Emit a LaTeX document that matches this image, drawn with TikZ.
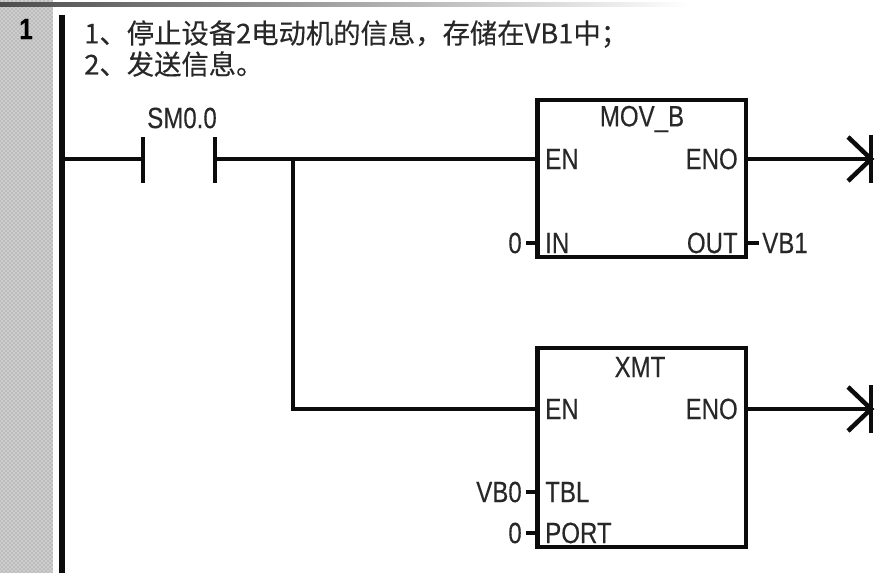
\documentclass[tikz,border=0pt]{standalone}
\usepackage{xcolor}
\usepackage{fontspec}
\usetikzlibrary{positioning, calc, patterns}
\setmainfont[FakeStretch=0.82, FakeBold=0.25]{Liberation Sans}
\newfontfamily\cjk[FakeBold=0.3]{Noto Sans CJK SC}
\definecolor{mydark}{RGB}{12,12,12}
\definecolor{mytext}{RGB}{40,40,40}
\definecolor{mystrip}{RGB}{205,205,205}
\tikzset{
  plcbox/.style={rectangle, draw=mydark, fill=white, line width=3.6pt, inner sep=0pt},
  pin/.style={text=mytext, font=\fontsize{22}{24}\selectfont, inner sep=0pt},
  remark/.style={text=mytext, font=\fontsize{20.5}{24}\cjk, inner sep=0pt, anchor=west},
  line/.style={line width=3.4pt, color=mydark},
  stub/.style={line width=3pt, color=mydark}
}
\begin{document}
\begin{tikzpicture}[x=0.75pt, y=-0.75pt]
  \useasboundingbox (0,0) rectangle (889,573);

  % Network number strip and top edge
  \fill[mystrip] (0,0) rectangle (53,573);
  \fill[pattern=crosshatch dots, pattern color=black!45] (0,0) rectangle (53,573);
  \shade[left color=black!70, right color=white] (0,3) rectangle (690,7);
  \node[font=\fontsize{22}{24}\selectfont\bfseries, inner sep=0pt] (netnum) at (26,29) {1};

  % Network comment
  \node[remark] (remarkA) at (84,34) {1、停止设备2电动机的信息，存储在VB1中；};
  \node[remark] (remarkB) at (84,64) {2、发送信息。};

  % Power rail
  \coordinate (railtop) at (62,15);
  \coordinate (railbot) at (62,573);
  \draw[line width=3.8pt, color=mydark] (railtop) -- (railbot);

  % Contact SM0.0
  \coordinate (railtap) at (62,159);
  \coordinate (contactL) at (143,159);
  \coordinate (contactR) at (215,159);
  \draw[line] (railtap) -- (contactL);
  \draw[line] ($(contactL)+(0,-22)$) -- ($(contactL)+(0,24)$);
  \draw[line] ($(contactR)+(0,-22)$) -- ($(contactR)+(0,24)$);
  \node[pin] (contactname) at (182,118) {SM0.0};

  % MOV_B box
  \node[plcbox, minimum width=156.4pt, minimum height=117.8pt] (movbox) at (641.75,178.5) {};
  \node[pin] (movname) at (642,119) {MOV\_B};
  \node[pin, anchor=west] (moven) at (545,159) {EN};
  \node[pin, anchor=east] (moveno) at (738,159) {ENO};
  \node[pin, anchor=west] (movin) at (545,243) {IN};
  \node[pin, anchor=east] (movout) at (738,243) {OUT};
  \node[pin, anchor=east] (movinval) at (522,243) {0};
  \node[pin, anchor=west] (movoutval) at (762,243) {VB1};

  % XMT box
  \node[plcbox, minimum width=156.4pt, minimum height=149.2pt] (xmtbox) at (641.75,447.5) {};
  \node[pin] (xmtname) at (640,367) {XMT};
  \node[pin, anchor=west] (xmten) at (545,409) {EN};
  \node[pin, anchor=east] (xmteno) at (738,409) {ENO};
  \node[pin, anchor=west] (xmttbl) at (545,492) {TBL};
  \node[pin, anchor=west] (xmtport) at (545,533) {PORT};
  \node[pin, anchor=east] (xmttblval) at (522,492) {VB0};
  \node[pin, anchor=east] (xmtportval) at (522,533) {0};

  % Rung wiring
  \coordinate (branch) at (293,159);
  \draw[line] (contactR) -- (movbox.west |- contactR);
  \draw[line] (branch) |- (xmtbox.west |- xmten);

  % Enable outputs with open ends
  \coordinate (movend) at (871,159);
  \coordinate (xmtend) at (871,409);
  \draw[line] (movbox.east |- movend) -- (movend);
  \draw[line] (xmtbox.east |- xmtend) -- (xmtend);
  \foreach \endpt in {movend, xmtend} {
    \draw[line] ($(\endpt)+(0,-24)$) -- ($(\endpt)+(0,24)$);
    \draw[line] ($(\endpt)+(-23,-22)$) -- (\endpt) -- ($(\endpt)+(-23,22)$);
  }

  % Parameter stubs
  \draw[stub] (movinval.east |- movin) ++(4,0) -- (movbox.west |- movin);
  \draw[stub] (movbox.east |- movout) -- ++(11,0);
  \draw[stub] (xmttblval.east |- xmttbl) ++(4,0) -- (xmtbox.west |- xmttbl);
  \draw[stub] (xmtportval.east |- xmtport) ++(4,0) -- (xmtbox.west |- xmtport);
\end{tikzpicture}
\end{document}
